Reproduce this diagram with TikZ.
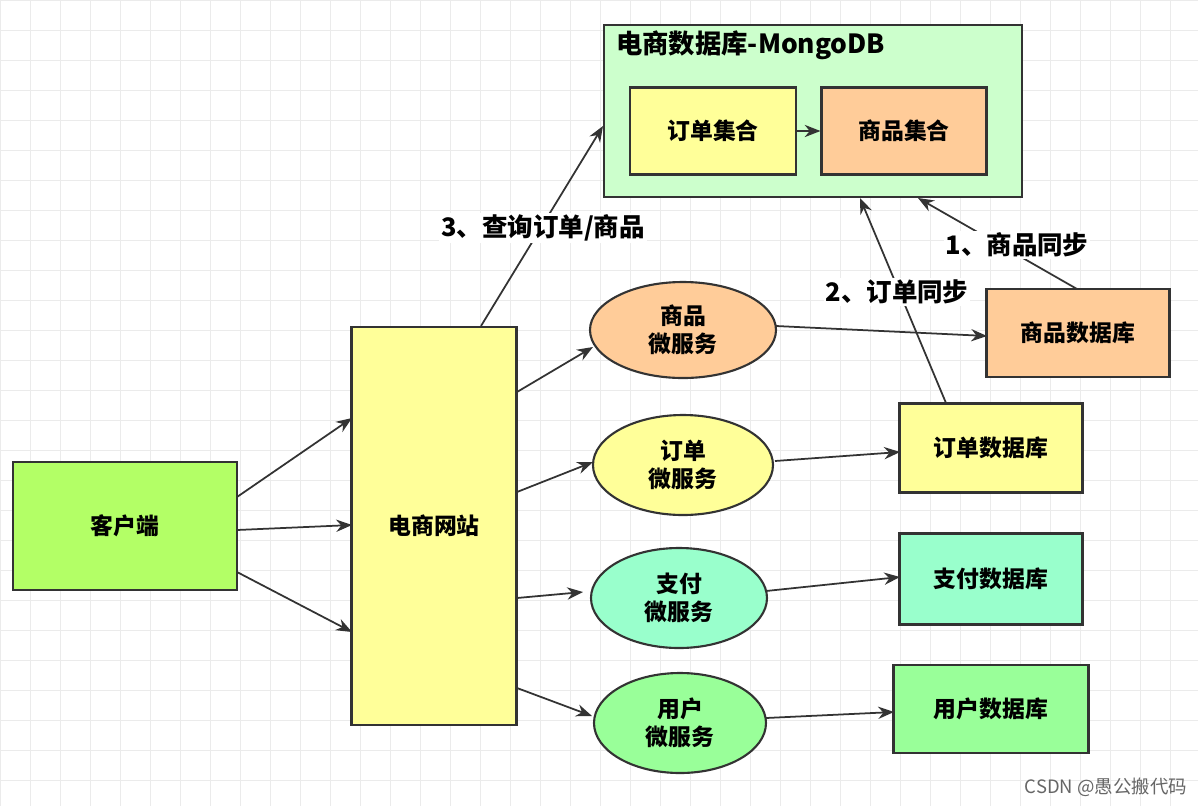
\documentclass[tikz,border=0pt]{standalone}
\usepackage{fontspec}
\setmainfont{Noto Sans CJK SC}
\usetikzlibrary{arrows.meta,shapes.geometric}
\definecolor{cy}{HTML}{FFFF99}
\definecolor{co}{HTML}{FFCC99}
\definecolor{cm}{HTML}{99FFCC}
\definecolor{cg}{HTML}{99FF99}
\definecolor{cl}{HTML}{B3FF66}
\definecolor{cb}{HTML}{CCFFCC}
\definecolor{ln}{HTML}{333333}
\begin{document}
\begin{tikzpicture}[x=0.02cm,y=-0.02cm,
  box/.style={draw=ln,line width=1.2pt,font=\bfseries\fontsize{13}{16}\selectfont,align=center},
  ell/.style={ellipse,draw=ln,line width=1.2pt,font=\bfseries\fontsize{13}{16}\selectfont,align=center,inner sep=0pt},
  arr/.style={draw=ln,line width=1pt,-{Stealth[length=9pt,width=7pt]}},
  lab/.style={font=\bfseries\fontsize{14.5}{16}\selectfont,fill=white,inner sep=1pt}]
\useasboundingbox (0,0) rectangle (1198,806);
\fill[white] (0,0) rectangle (1198,806);
\foreach \i in {0,30,...,1198} \draw[black!8,line width=0.4pt] (\i,0) -- (\i,806);
\foreach \j in {0,30,...,806} \draw[black!8,line width=0.4pt] (0,\j) -- (1198,\j);
\node[box,fill=cb,minimum width=418*0.02cm,minimum height=172*0.02cm,anchor=north west] (mdb) at (603,24) {};
\node[font=\bfseries\fontsize{15}{17}\selectfont,anchor=west] (mt) at (610,45) {电商数据库-MongoDB};
\node[box,fill=cy,minimum width=166*0.02cm,minimum height=87*0.02cm] (oc) at (713,131) {订单集合};
\node[box,fill=co,minimum width=165*0.02cm,minimum height=87*0.02cm] (pc) at (904,131) {商品集合};
\node[box,fill=cl,minimum width=224*0.02cm,minimum height=128*0.02cm] (cli) at (125,526) {客户端};
\node[box,fill=cy,minimum width=165*0.02cm,minimum height=398*0.02cm] (web) at (434,526) {电商网站};
\node[ell,fill=co,minimum width=186*0.02cm,minimum height=96*0.02cm] (ps) at (683,330) {商品\\微服务};
\node[ell,fill=cy,minimum width=180*0.02cm,minimum height=100*0.02cm] (os) at (683,465) {订单\\微服务};
\node[ell,fill=cm,minimum width=176*0.02cm,minimum height=100*0.02cm] (ys) at (679,598) {支付\\微服务};
\node[ell,fill=cg,minimum width=172*0.02cm,minimum height=100*0.02cm] (us) at (680,723) {用户\\微服务};
\node[box,fill=co,minimum width=183*0.02cm,minimum height=88*0.02cm] (pdb) at (1078,333) {商品数据库};
\node[box,fill=cy,minimum width=183*0.02cm,minimum height=89*0.02cm] (odb) at (991,448) {订单数据库};
\node[box,fill=cm,minimum width=183*0.02cm,minimum height=91*0.02cm] (ydb) at (991,579) {支付数据库};
\node[box,fill=cg,minimum width=195*0.02cm,minimum height=88*0.02cm] (udb) at (991,709) {用户数据库};
\draw[arr] (237,497) -- (352,418);
\draw[arr] (237,530) -- (352,525);
\draw[arr] (237,572) -- (352,632);
\draw[arr] (517,392) -- (593,347);
\draw[arr] (517,492) -- (593,462);
\draw[arr] (517,598) -- (583,592);
\draw[arr] (517,688) -- (592,716);
\draw[arr] (776,326) -- (987,336);
\draw[arr] (775,461) -- (900,452);
\draw[arr] (766,591) -- (900,577);
\draw[arr] (766,718) -- (894,712);
\draw[arr] (oc) -- (pc);
\draw[arr] (481,326) -- (603,126);
\draw[arr] (946,403) -- (860,198);
\draw[arr] (1077,289) -- (918,198);
\node[lab] at (543,228) {3、查询订单/商品};
\node[lab] at (897,292) {2、订单同步};
\node[lab] at (1017,245) {1、商品同步};
\node[font=\fontsize{10.5}{12}\selectfont,text=black!60] at (1106,787) {CSDN @愚公搬代码};
\end{tikzpicture}
\end{document}
